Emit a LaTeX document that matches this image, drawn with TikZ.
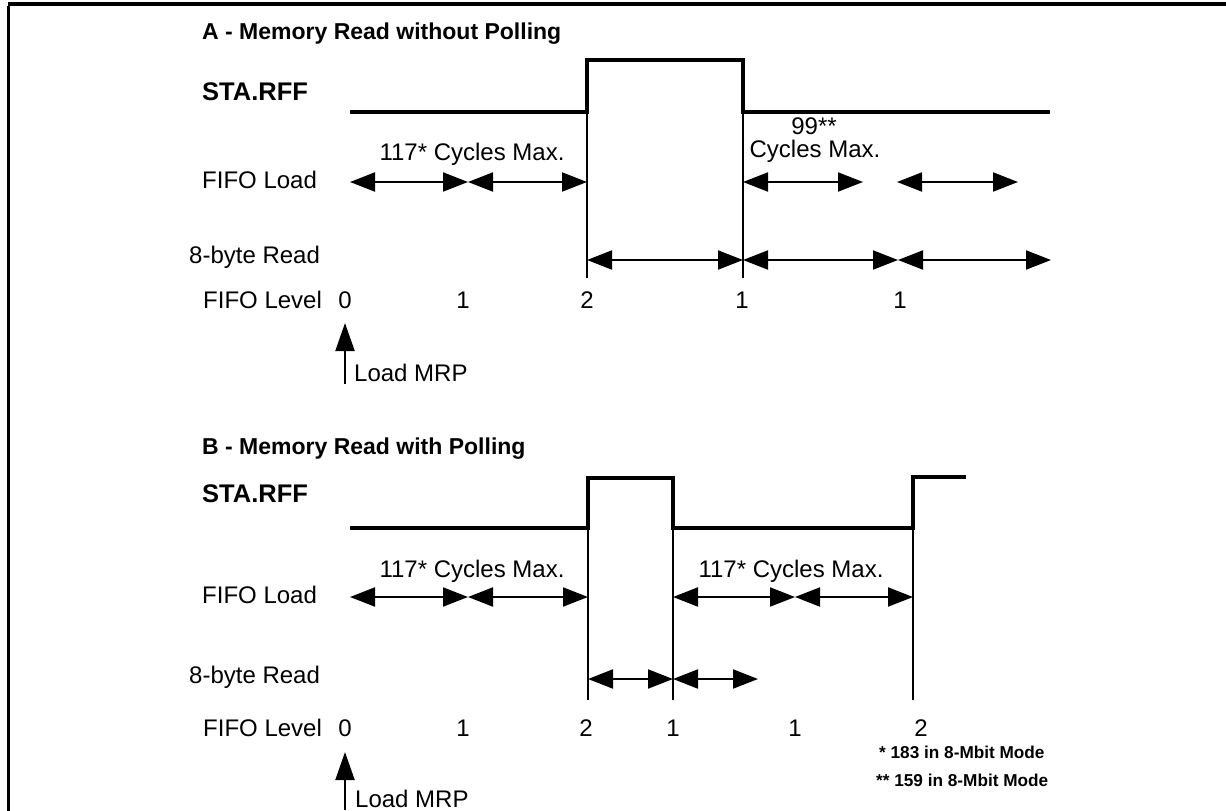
\documentclass[tikz,border=0pt]{standalone}
\usepackage{fontspec}
\setmainfont{Liberation Sans}
\usetikzlibrary{arrows.meta}
\begin{document}
\begin{tikzpicture}[x=1pt,y=-1pt,
  lbl/.style={anchor=base west,inner sep=0pt,font=\fontsize{24}{26}\selectfont},
  num/.style={anchor=base,inner sep=0pt,font=\fontsize{24}{26}\selectfont},
  ttl/.style={anchor=base west,inner sep=0pt,font=\fontsize{23}{26}\selectfont\bfseries},
  sta/.style={anchor=base west,inner sep=0pt,font=\fontsize{25.5}{26}\selectfont\bfseries},
  note/.style={anchor=base west,inner sep=0pt,font=\fontsize{17.2}{20}\selectfont\bfseries},
  sig/.style={line width=4pt,line join=miter},
  vline/.style={line width=1.8pt},
  dimarr/.style={line width=2pt,{Triangle[length=25pt,width=19pt]}-{Triangle[length=25pt,width=19pt]}},
  uparr/.style={line width=2pt,-{Triangle[length=28pt,width=19pt]}}]
\useasboundingbox (0,0) rectangle (1226,811);
% frame
\coordinate (fTL) at (8,4);
\coordinate (fTR) at (1226,4);
\coordinate (fBL) at (8,811);
\draw[line width=4pt] (fTL) -- (fTR);
\draw[line width=3pt] ([yshift=-2pt]fTL) -- (fBL);

% ================= Panel A =================
\node[ttl] (tA) at (202,39) {A - Memory Read without Polling};
\node[sta] (sA) at (202,100) {STA.RFF};
\node[lbl] (flA) at (202,188) {FIFO Load};
\node[lbl] (brA) at (189,263) {8-byte Read};
\node[lbl] (lvA) at (203,308) {FIFO Level};

\coordinate (a0) at (350,112);
\coordinate (a1) at (587,112);
\coordinate (a2) at (587,60);
\coordinate (a3) at (743,60);
\coordinate (a4) at (743,112);
\coordinate (a5) at (1050,112);
\draw[sig] (a0) -- (a1) -- (a2) -- (a3) -- (a4) -- (a5);
\coordinate (va1) at (587,278);
\coordinate (va2) at (743,278);
\draw[vline] (a1) -- (va1);
\draw[vline] (a4) -- (va2);

% FIFO load arrows A
\coordinate (la0) at (350,182);
\coordinate (la1) at (468,182);
\coordinate (la2) at (587,182);
\coordinate (la3) at (743,182);
\coordinate (la4) at (863,182);
\coordinate (la5) at (897,182);
\coordinate (la6) at (1018,182);
\draw[dimarr] (la0) -- (la1);
\draw[dimarr] (la1) -- (la2);
\draw[dimarr] (la3) -- (la4);
\draw[dimarr] (la5) -- (la6);
\node[num] (cA1) at (472,160) {117* Cycles Max.};
\node[num] (cA2) at (814,134) {99**};
\node[num] (cA3) at (815,157) {Cycles Max.};

% 8-byte read arrows A
\coordinate (ra0) at (587,260);
\coordinate (ra1) at (743,260);
\coordinate (ra2) at (898,260);
\coordinate (ra3) at (1051,260);
\draw[dimarr] (ra0) -- (ra1);
\draw[dimarr] (ra1) -- (ra2);
\draw[dimarr] (ra2) -- (ra3);

% FIFO level A
\node[num] (nA0) at (345,308) {0};
\node[num] (nA1) at (463,308) {1};
\node[num] (nA2) at (587,308) {2};
\node[num] (nA3) at (742,308) {1};
\node[num] (nA4) at (900,308) {1};

% Load MRP A
\coordinate (mA0) at (345,384);
\coordinate (mA1) at (345,323);
\draw[uparr] (mA0) -- (mA1);
\node[lbl] (mrpA) at (354,381) {Load MRP};

% ================= Panel B =================
\node[ttl] (tB) at (202,454) {B - Memory Read with Polling};
\node[sta] (sB) at (202,502) {STA.RFF};
\node[lbl] (flB) at (202,603) {FIFO Load};
\node[lbl] (brB) at (189,683) {8-byte Read};
\node[lbl] (lvB) at (203,736) {FIFO Level};

\coordinate (b0) at (350,528);
\coordinate (b1) at (588,528);
\coordinate (b2) at (588,478);
\coordinate (b3) at (673,478);
\coordinate (b4) at (673,528);
\coordinate (b5) at (913,528);
\coordinate (b6) at (913,477);
\coordinate (b7) at (966,477);
\draw[sig] (b0) -- (b1) -- (b2) -- (b3) -- (b4) -- (b5) -- (b6) -- (b7);
\coordinate (vb1) at (588,700);
\coordinate (vb2) at (673,700);
\coordinate (vb3) at (913,700);
\draw[vline] (b1) -- (vb1);
\draw[vline] (b4) -- (vb2);
\draw[vline] (b5) -- (vb3);

% FIFO load arrows B
\coordinate (lb0) at (350,597);
\coordinate (lb1) at (468,597);
\coordinate (lb2) at (588,597);
\coordinate (lb3) at (673,597);
\coordinate (lb4) at (795,597);
\coordinate (lb5) at (913,597);
\draw[dimarr] (lb0) -- (lb1);
\draw[dimarr] (lb1) -- (lb2);
\draw[dimarr] (lb3) -- (lb4);
\draw[dimarr] (lb4) -- (lb5);
\node[num] (cB1) at (472,577) {117* Cycles Max.};
\node[num] (cB2) at (791,577) {117* Cycles Max.};

% 8-byte read arrows B
\coordinate (rb0) at (588,679);
\coordinate (rb1) at (673,679);
\coordinate (rb2) at (758,679);
\draw[dimarr] (rb0) -- (rb1);
\draw[dimarr] (rb1) -- (rb2);

% FIFO level B
\node[num] (nB0) at (345,736) {0};
\node[num] (nB1) at (463,736) {1};
\node[num] (nB2) at (586,736) {2};
\node[num] (nB3) at (673,736) {1};
\node[num] (nB4) at (795,736) {1};
\node[num] (nB5) at (921,736) {2};

% Load MRP B
\coordinate (mB0) at (345,810);
\coordinate (mB1) at (345,752);
\draw[uparr] (mB0) -- (mB1);
\node[lbl] (mrpB) at (355,807) {Load MRP};

% footnotes
\node[note] (fn1) at (879,758) {* 183 in 8-Mbit Mode};
\node[note] (fn2) at (876,786) {** 159 in 8-Mbit Mode};
\end{tikzpicture}
\end{document}
